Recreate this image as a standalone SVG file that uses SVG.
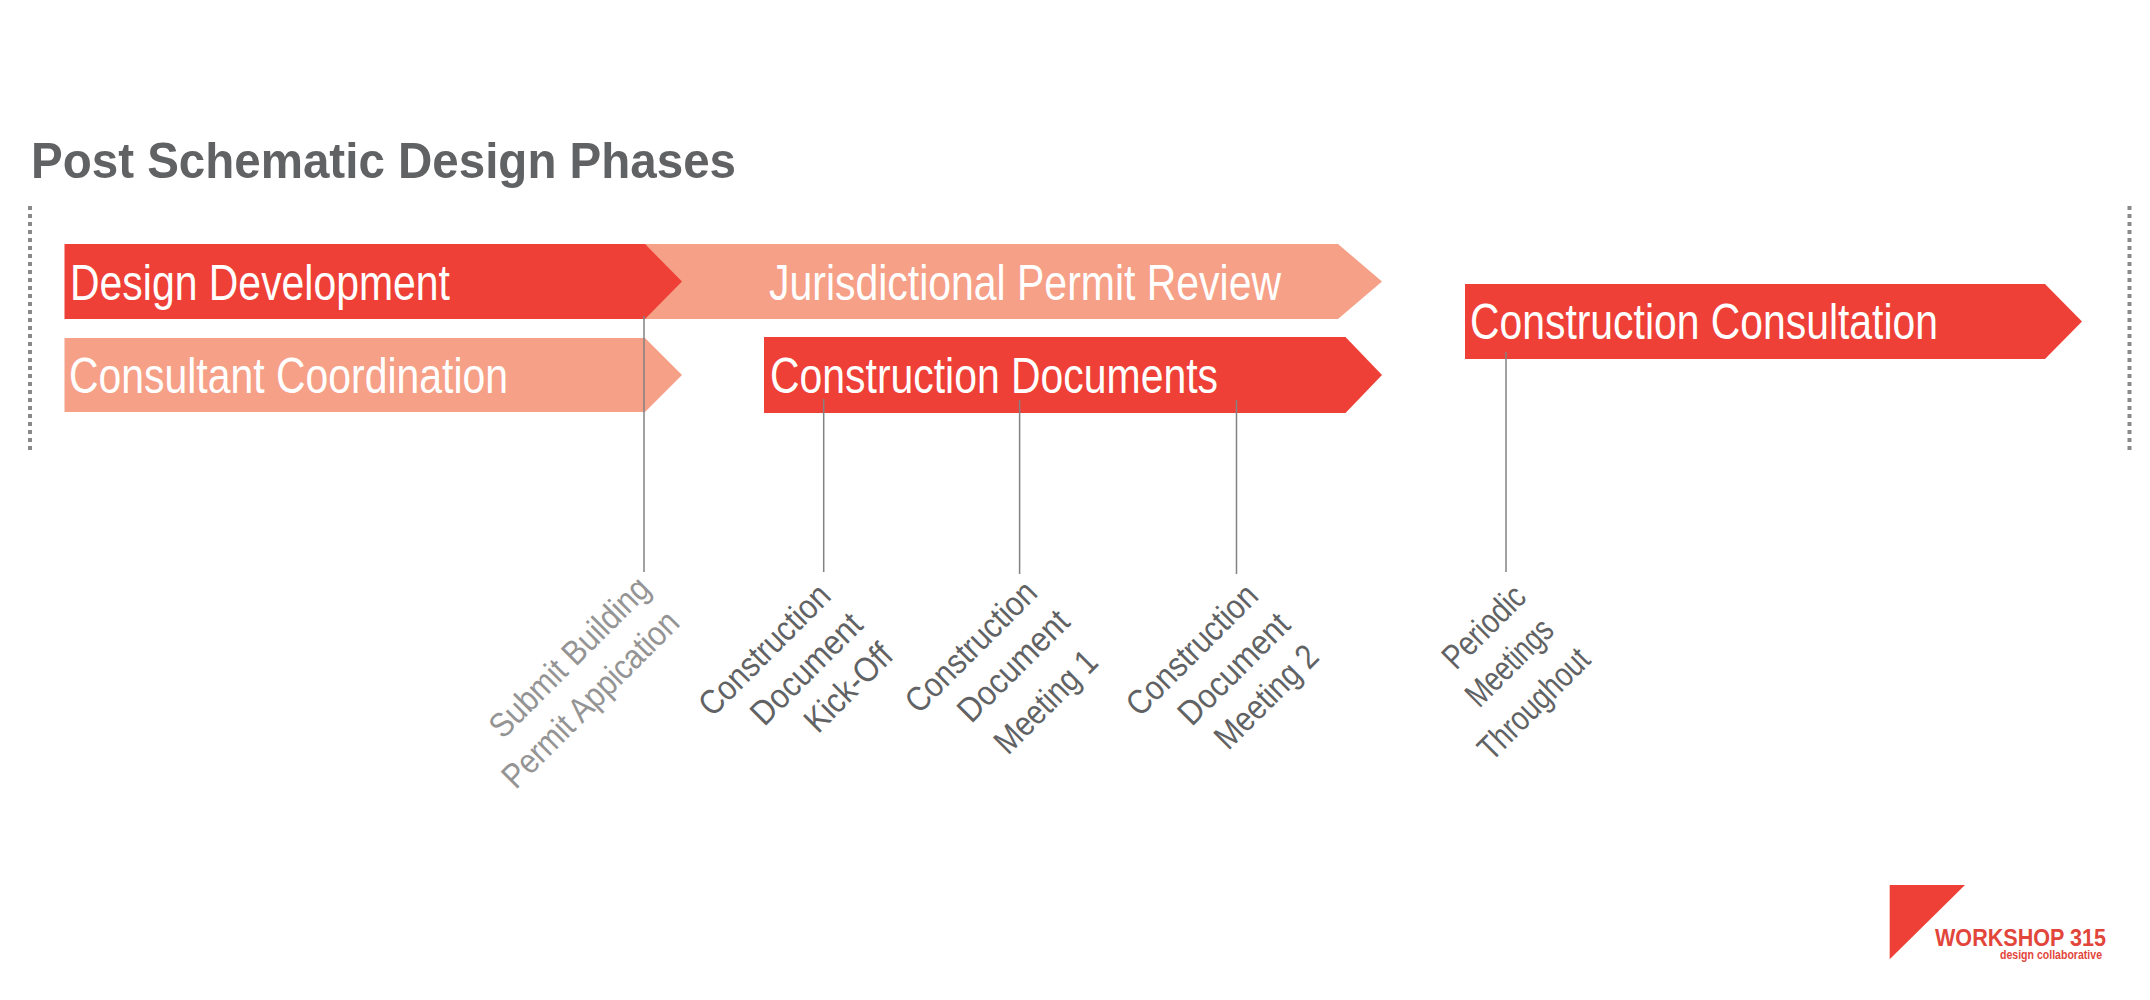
<svg xmlns="http://www.w3.org/2000/svg" width="2150" height="1000" viewBox="0 0 2150 1000">
<style>
text{font-family:"Liberation Sans",Arial,sans-serif}
.red{fill:#ee4037}
.sal{fill:#f6a088}
.bar{fill:#fff;font-size:50px}
.lab{fill:#616264;font-size:34.5px;text-anchor:middle}
.lab2{fill:#949494;font-size:34.5px;text-anchor:middle}
.lead{stroke:#828282;stroke-width:1.5;fill:none}
.edge{stroke:#8a8a8a;stroke-width:4;stroke-dasharray:4 4;fill:none}
</style>
<rect width="2150" height="1000" fill="#fff"/>
<text id="title" x="31" y="178" font-size="50" font-weight="700" fill="#616264" textLength="705" lengthAdjust="spacingAndGlyphs">Post Schematic Design Phases</text>
<g id="edges"><path class="edge" d="M30 206V453"/><path class="edge" d="M2129.5 206V453"/></g>
<g id="n-permit-review"><polygon class="sal" points="640,244 1338,244 1382,281.5 1338,319 640,319"/>
<text class="bar" x="769" y="300" textLength="512" lengthAdjust="spacingAndGlyphs">Jurisdictional Permit Review</text></g>
<g id="n-design-development"><polygon class="red" points="64.5,244 645,244 682,281.5 645,319 64.5,319"/>
<text class="bar" x="70" y="300" textLength="380" lengthAdjust="spacingAndGlyphs">Design Development</text></g>
<g id="n-consultant-coordination"><polygon class="sal" points="64.5,338 645,338 682,375 645,412 64.5,412"/>
<text class="bar" x="69" y="393" textLength="439" lengthAdjust="spacingAndGlyphs">Consultant Coordination</text></g>
<g id="n-construction-documents"><polygon class="red" points="764,337 1345.5,337 1382,375 1345.5,413 764,413"/>
<text class="bar" x="770" y="393" textLength="448" lengthAdjust="spacingAndGlyphs">Construction Documents</text></g>
<g id="n-construction-consultation"><polygon class="red" points="1465,284 2045,284 2082,321.5 2045,359 1465,359"/>
<text class="bar" x="1470" y="339" textLength="468" lengthAdjust="spacingAndGlyphs">Construction Consultation</text></g>
<g id="connectors">
<path class="lead" d="M644 316V572"/><path class="lead" d="M823.7 399V572"/><path class="lead" d="M1019.6 400V574"/><path class="lead" d="M1236.5 400V574"/><path class="lead" d="M1506 352V572"/>
</g>
<g id="m-submit">
<text class="lab2" transform="translate(577.5,665.5) rotate(-45)" textLength="211" lengthAdjust="spacingAndGlyphs">Submit Building</text>
<text class="lab2" transform="translate(598.5,707.5) rotate(-45)" textLength="234" lengthAdjust="spacingAndGlyphs">Permit Appication</text>
</g>
<g id="m-kickoff">
<text class="lab" transform="translate(772.5,658) rotate(-45)" textLength="170" lengthAdjust="spacingAndGlyphs">Construction</text>
<text class="lab" transform="translate(814.5,677) rotate(-45)" textLength="142" lengthAdjust="spacingAndGlyphs">Document</text>
<text class="lab" transform="translate(856.5,696) rotate(-45)" textLength="109" lengthAdjust="spacingAndGlyphs">Kick-Off</text>
</g>
<g id="m-meeting1">
<text class="lab" transform="translate(979,655) rotate(-45)" textLength="170" lengthAdjust="spacingAndGlyphs">Construction</text>
<text class="lab" transform="translate(1021.5,674) rotate(-45)" textLength="142" lengthAdjust="spacingAndGlyphs">Document</text>
<text class="lab" transform="translate(1054,710) rotate(-45)" textLength="130" lengthAdjust="spacingAndGlyphs">Meeting 1</text>
</g>
<g id="m-meeting2">
<text class="lab" transform="translate(1200,658) rotate(-45)" textLength="170" lengthAdjust="spacingAndGlyphs">Construction</text>
<text class="lab" transform="translate(1242,677) rotate(-45)" textLength="142" lengthAdjust="spacingAndGlyphs">Document</text>
<text class="lab" transform="translate(1274.5,705) rotate(-45)" textLength="131" lengthAdjust="spacingAndGlyphs">Meeting 2</text>
</g>
<g id="m-periodic">
<text class="lab" transform="translate(1492,635) rotate(-45)" textLength="102" lengthAdjust="spacingAndGlyphs">Periodic</text>
<text class="lab" transform="translate(1517.5,670.5) rotate(-45)" textLength="108" lengthAdjust="spacingAndGlyphs">Meetings</text>
<text class="lab" transform="translate(1542,712) rotate(-45)" textLength="142" lengthAdjust="spacingAndGlyphs">Throughout</text>
</g>
<g id="logo">
<polygon class="red" points="1889.7,885 1965,885 1889.7,959.3"/>
<text x="1935" y="946" font-size="24" font-weight="700" fill="#e2463b" textLength="171" lengthAdjust="spacingAndGlyphs">WORKSHOP 315</text>
<text x="2000" y="958.5" font-size="13.5" font-weight="700" fill="#e2463b" textLength="102" lengthAdjust="spacingAndGlyphs">design collaborative</text>
</g>
</svg>
